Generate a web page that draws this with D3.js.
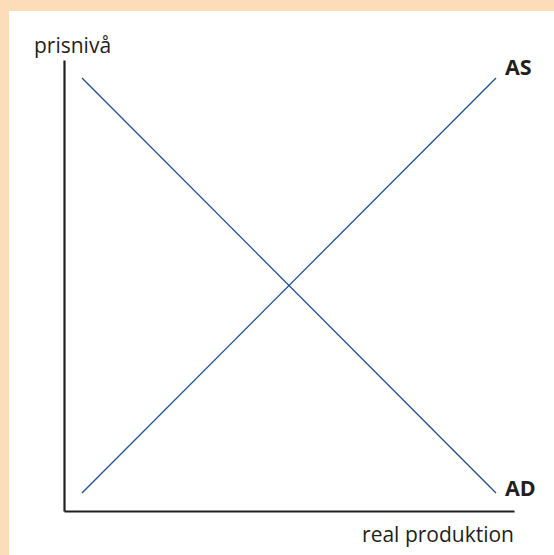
<!DOCTYPE html>
<html>
<head>
<meta charset="utf-8">
<script src="https://cdn.jsdelivr.net/npm/d3@7"></script>
<style>
  html, body { margin: 0; padding: 0; background: #fddcb9; }
  svg { display: block; }
</style>
</head>
<body>
<svg id="chart" width="554" height="555"></svg>
<script>
// curve end points (x, y) in chart units 0-100
var asPoints = [[4, 4], [96, 96]];
var adPoints = [[4, 96], [96, 4]];
var curveNames = ["AS", "AD"];
var xLabel = "real produktion";
var yLabel = "prisnivå";

var svg = d3.select("#chart");

// white panel
svg.append("rect")
  .attr("x", 9).attr("y", 11)
  .attr("width", 545).attr("height", 544)
  .attr("fill", "#ffffff");

var x = d3.scaleLinear().domain([0, 100]).range([64, 514]);
var y = d3.scaleLinear().domain([0, 100]).range([511, 60]);

var line = d3.line()
  .x(function (d) { return x(d[0]) })
  .y(function (d) { return y(d[1]) });

/************************* AXES ******************************/

svg.append("g")
  .attr("transform", "translate(0," + y(0) + ")")
  .call(d3.axisBottom(x).ticks(0).tickSizeOuter(0))
  .select(".domain")
  .attr("stroke", "#231f20")
  .attr("stroke-width", 2.2);

svg.append("g")
  .attr("transform", "translate(" + x(0) + ",0)")
  .call(d3.axisLeft(y).ticks(0).tickSizeOuter(0))
  .select(".domain")
  .attr("stroke", "#231f20")
  .attr("stroke-width", 2.2);

/************************* CURVES ******************************/

var curves = [asPoints, adPoints];

svg.selectAll(".curve")
  .data(curves)
  .enter()
  .append("path")
  .attr("class", "curve")
  .attr("d", line)
  .attr("fill", "none")
  .attr("stroke", "#1d4f8f")
  .attr("stroke-width", 1.3);

// curve labels at the right-hand end of each curve
svg.selectAll(".curve-label")
  .data(curves)
  .enter()
  .append("text")
  .attr("class", "curve-label")
  .attr("x", function (d) { return x(d[1][0]) + 9 })
  .attr("y", function (d, i) { return y(d[1][1]) + (i == 0 ? -3 : 3) })
  .attr("font-family", "Open Sans, sans-serif")
  .attr("font-weight", "bold")
  .attr("font-size", 21.5)
  .attr("fill", "#231f20")
  .text(function (d, i) { return curveNames[i] });

/************************* AXIS LABELS ******************************/

svg.append("text")
  .attr("x", 34).attr("y", 53)
  .attr("font-family", "Open Sans, sans-serif")
  .attr("font-size", 21)
  .attr("fill", "#231f20")
  .text(yLabel);

svg.append("text")
  .attr("x", 514).attr("y", 542)
  .attr("text-anchor", "end")
  .attr("font-family", "Open Sans, sans-serif")
  .attr("font-size", 21)
  .attr("fill", "#231f20")
  .text(xLabel);
</script>
</body>
</html>
